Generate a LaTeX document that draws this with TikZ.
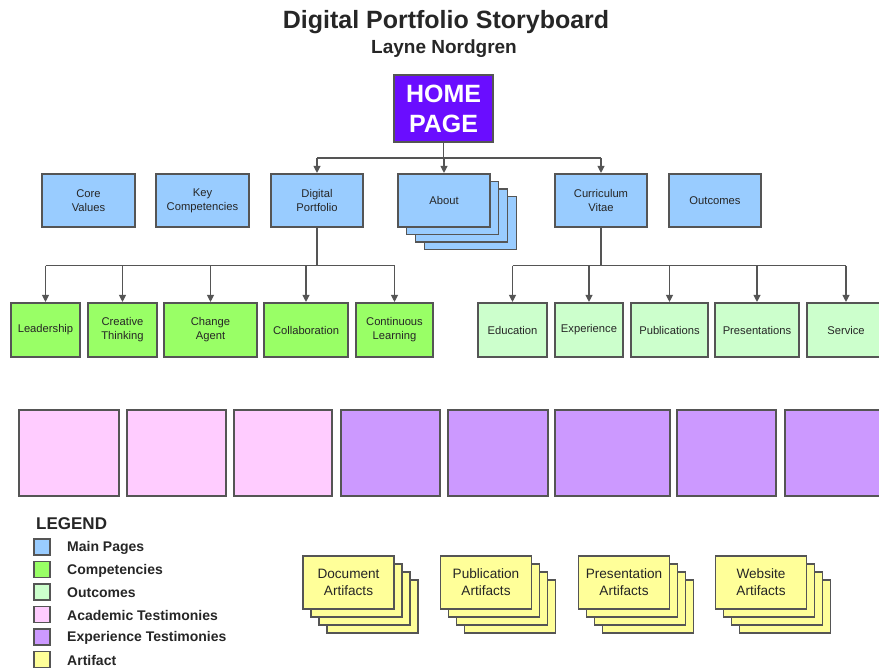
\documentclass[tikz,border=0pt]{standalone}
\usepackage{fontspec}
\setmainfont{Liberation Sans}
\usetikzlibrary{arrows.meta}
\definecolor{mainblue}{HTML}{99CCFF}
\definecolor{compgreen}{HTML}{99FF66}
\definecolor{outgreen}{HTML}{CCFFCC}
\definecolor{acadpink}{HTML}{FFCCFF}
\definecolor{exppurple}{HTML}{CC99FF}
\definecolor{artyellow}{HTML}{FFFF99}
\definecolor{homeviolet}{HTML}{6A0DFF}
\definecolor{edgegray}{HTML}{555555}
\newcommand{\mystack}[7]{%
  \foreach \k in {3,2,1} {\node[#6] (#1\k) at ({#2+\k*#4},{#3+\k*#5}) {};}
  \node[#6] (#1) at (#2,#3) {#7};}
\tikzset{
  base/.style={draw=edgegray, line width=1.1pt, rectangle, inner sep=1pt, align=center, text=black!85},
  mainbox/.style={base, fill=mainblue, minimum height=53pt, font=\fontsize{11.2}{14}\selectfont},
  compbox/.style={base, fill=compgreen, minimum height=54pt, font=\fontsize{11.2}{14}\selectfont},
  outbox/.style={base, fill=outgreen, minimum height=54pt, font=\fontsize{11.2}{14}\selectfont},
  acadbox/.style={base, fill=acadpink, minimum height=86pt},
  expbox/.style={base, fill=exppurple, minimum height=86pt},
  artbox/.style={base, fill=artyellow, minimum width=91pt, minimum height=53pt, font=\fontsize{13.6}{17}\selectfont},
  legsq/.style={base, minimum width=16pt, minimum height=16pt, inner sep=0pt},
  legtxt/.style={anchor=west, font=\fontsize{14}{16}\selectfont\bfseries, text=black!85, inner sep=0pt},
  conn/.style={draw=edgegray, line width=1.1pt},
  arr/.style={conn, -{Triangle[width=7pt,length=7pt]}, shorten >=0.5pt}
}
\begin{document}
\begin{tikzpicture}[x=1pt, y=-1pt]
\useasboundingbox (0,0) rectangle (879,670);

% titles
\node[font=\fontsize{25}{30}\selectfont\bfseries, text=black!85] (title) at (446,22) {Digital Portfolio Storyboard};
\node[font=\fontsize{19}{23}\selectfont\bfseries, text=black!85] (subtitle) at (444,49) {Layne Nordgren};

% home
\node[base, fill=homeviolet, minimum width=99pt, minimum height=67pt, text=white,
      font=\fontsize{25}{30}\selectfont\bfseries] (home) at (443.5,108.5) {HOME\\PAGE};

% row 2
\node[mainbox, minimum width=93pt] (core) at (88.5,200.5) {Core\\Values};
\node[mainbox, minimum width=93pt] (key) at (202.5,200.5) {Key\\Competencies};
\node[mainbox, minimum width=92pt] (dp) at (317,200.5) {Digital\\Portfolio};
\mystack{about}{444}{200.5}{8.7}{7.5}{mainbox, minimum width=92pt}{About}
\node[mainbox, minimum width=92pt] (cv) at (601,200.5) {Curriculum\\Vitae};
\node[mainbox, minimum width=92pt] (outc) at (715,200.5) {Outcomes};

% row 3
\node[compbox, minimum width=69pt] (lead) at (45.5,330) {Leadership};
\node[compbox, minimum width=69pt] (creat) at (122.5,330) {Creative\\Thinking};
\node[compbox, minimum width=93pt] (change) at (210.5,330) {Change\\Agent};
\node[compbox, minimum width=84pt] (collab) at (306,330) {Collaboration};
\node[compbox, minimum width=77pt] (cont) at (394.5,330) {Continuous\\Learning};
\node[outbox, minimum width=69pt] (edu) at (512.5,330) {Education};
\node[outbox, minimum width=68pt] (exper) at (589,330) {Experience};
\node[outbox, minimum width=77pt] (pubs) at (669.5,330) {Publications};
\node[outbox, minimum width=84pt] (pres) at (757,330) {Presentations};
\node[outbox, minimum width=78pt] (serv) at (846,330) {Service};

% connectors from home
\coordinate (hbus) at (443.5,158);
\draw[conn] (home.south) -- (hbus);
\draw[conn] (dp.north |- hbus) -- (cv.north |- hbus);
\draw[arr] (dp.north |- hbus) -- (dp.north);
\draw[arr] (about.north |- hbus) -- (about.north);
\draw[arr] (cv.north |- hbus) -- (cv.north);

% connectors from digital portfolio
\coordinate (dbus) at (317,265.5);
\draw[conn] (dp.south) -- (dbus);
\draw[conn] (lead.north |- dbus) -- (cont.north |- dbus);
\foreach \c in {lead,creat,change,collab,cont} {\draw[arr] (\c.north |- dbus) -- (\c.north);}

% connectors from curriculum vitae
\coordinate (cbus) at (601,265.5);
\draw[conn] (cv.south) -- (cbus);
\draw[conn] (edu.north |- cbus) -- (serv.north |- cbus);
\foreach \c in {edu,exper,pubs,pres,serv} {\draw[arr] (\c.north |- cbus) -- (\c.north);}

% testimonies row
\node[acadbox, minimum width=100pt] (t1) at (69,453) {};
\node[acadbox, minimum width=99pt] (t2) at (176.5,453) {};
\node[acadbox, minimum width=98pt] (t3) at (283,453) {};
\node[expbox, minimum width=99pt] (t4) at (390.5,453) {};
\node[expbox, minimum width=100pt] (t5) at (498,453) {};
\node[expbox, minimum width=115pt] (t6) at (612.5,453) {};
\node[expbox, minimum width=99pt] (t7) at (726.5,453) {};
\node[expbox, minimum width=100pt] (t8) at (835,453) {};

% artifacts
\mystack{docA}{348.5}{582.5}{8}{8}{artbox}{Document\\Artifacts}
\mystack{pubA}{486}{582.5}{8}{8}{artbox}{Publication\\Artifacts}
\mystack{presA}{624}{582.5}{8}{8}{artbox}{Presentation\\Artifacts}
\mystack{webA}{761}{582.5}{8}{8}{artbox}{Website\\Artifacts}

% legend
\node[anchor=west, font=\fontsize{17}{20}\selectfont\bfseries, text=black!85, inner sep=0pt] (legend) at (36,524) {LEGEND};
\node[legsq, fill=mainblue] (lg1) at (42,547) {};
\node[legsq, fill=compgreen] (lg2) at (42,569.5) {};
\node[legsq, fill=outgreen] (lg3) at (42,592) {};
\node[legsq, fill=acadpink] (lg4) at (42,614.5) {};
\node[legsq, fill=exppurple] (lg5) at (42,637) {};
\node[legsq, fill=artyellow] (lg6) at (42,659.5) {};
\node[legtxt] (lt1) at (67,548) {Main Pages};
\node[legtxt] (lt2) at (67,570.5) {Competencies};
\node[legtxt] (lt3) at (67,593) {Outcomes};
\node[legtxt] (lt4) at (67,615.5) {Academic Testimonies};
\node[legtxt] (lt5) at (67,638) {Experience Testimonies};
\node[legtxt] (lt6) at (67,660.5) {Artifact};
\end{tikzpicture}
\end{document}
